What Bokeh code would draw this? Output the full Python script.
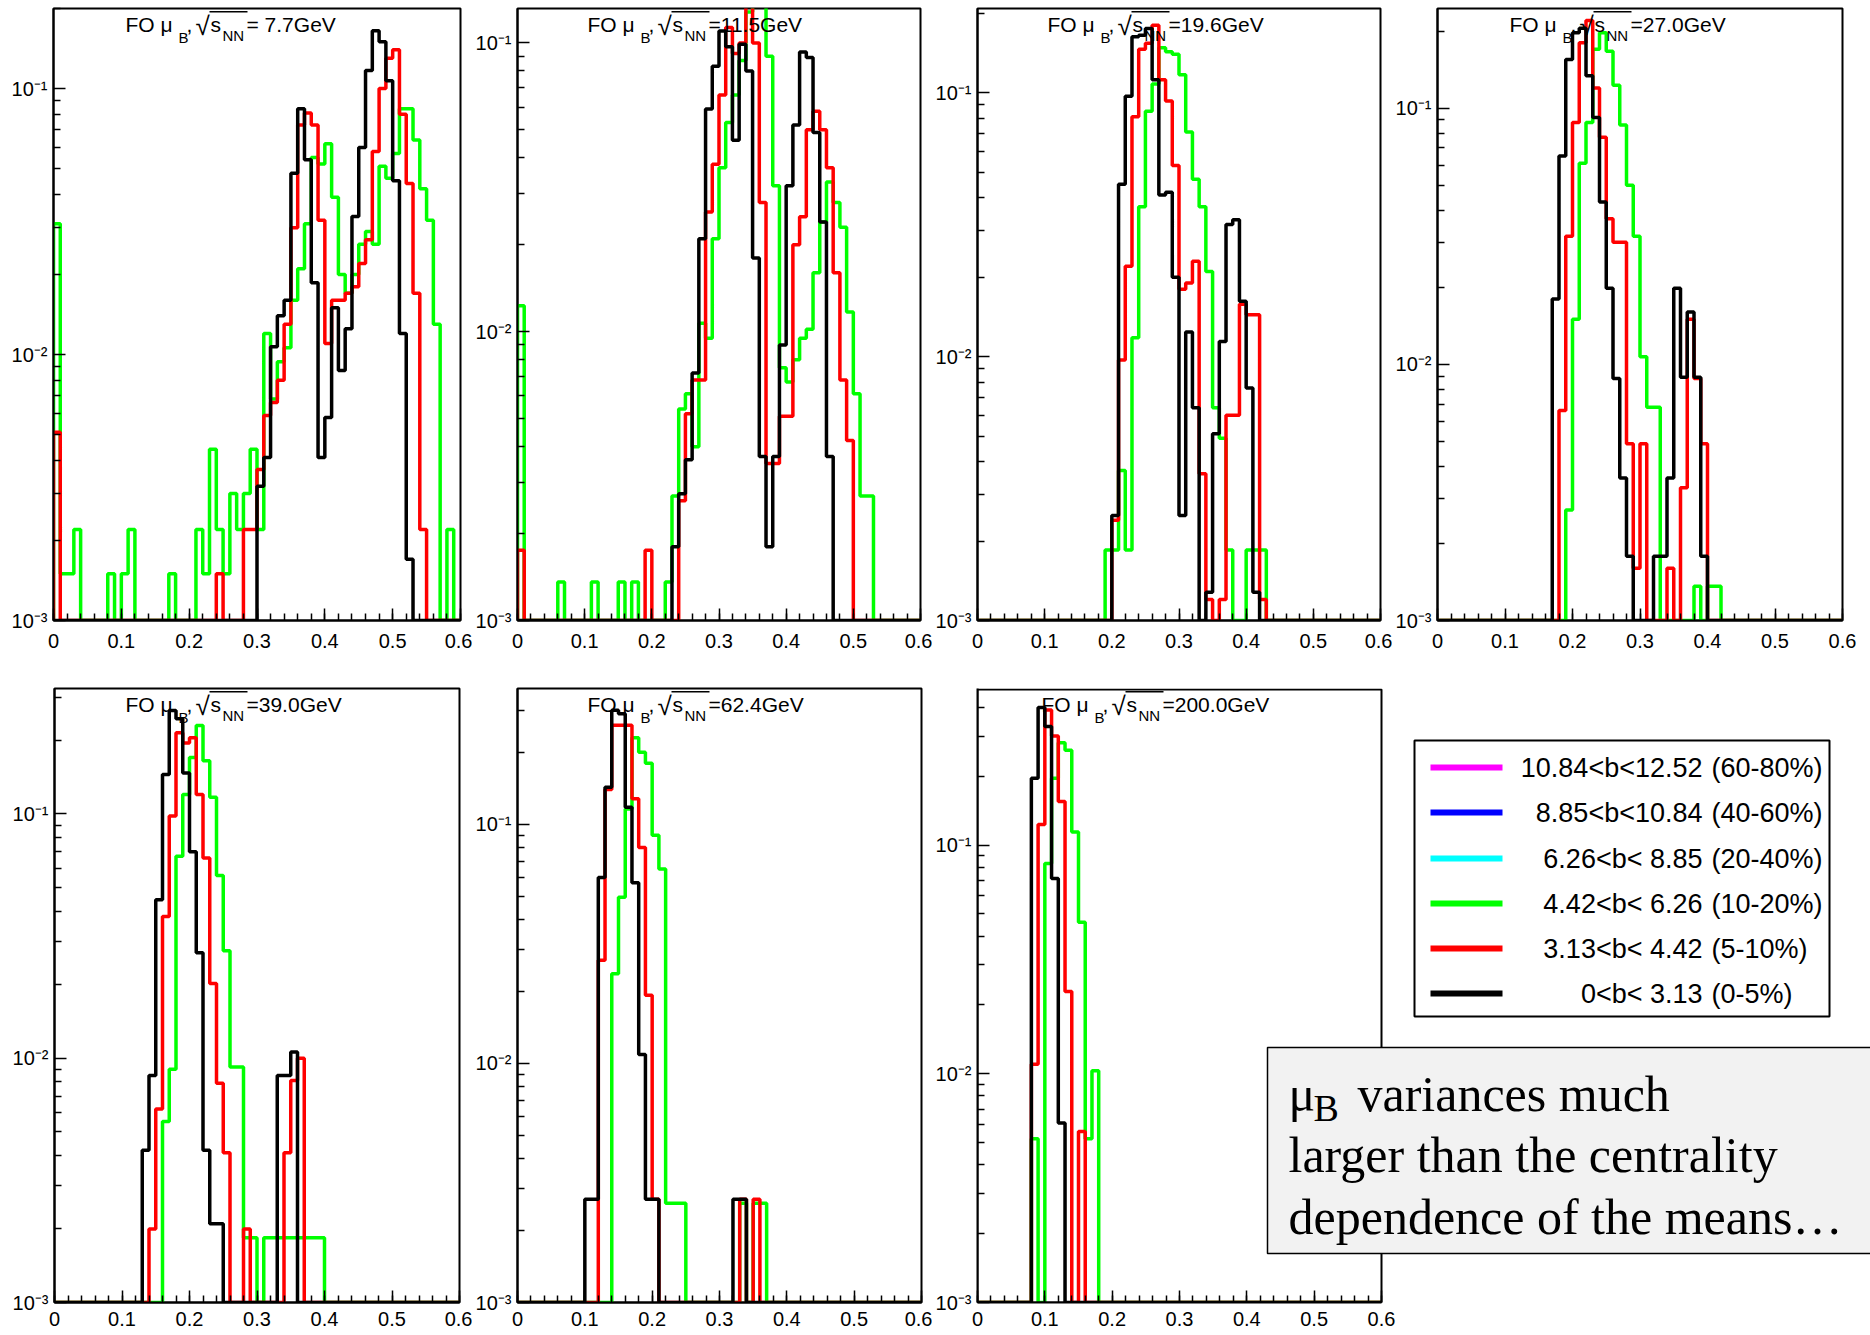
import numpy as np
from bokeh.plotting import figure
from bokeh.layouts import row, column
from bokeh.models import FixedTicker, CustomJSTickFormatter, Label, BoxAnnotation, Range1d
from bokeh.embed import file_html
from bokeh.resources import INLINE

# ---------------- data ----------------
N_BINS = 60
X_MIN, X_MAX = 0.0, 0.6
Y_MIN = 1e-3

energies = ["7.7", "11.5", "19.6", "27.0", "39.0", "62.4", "200.0"]
y_tops = [0.2, 0.1316, 0.2085, 0.245, 0.326, 0.37, 0.484]

# 7.7 GeV
green_7p7 = [0.031, 0.0015, 0.0015, 0.0022, 0, 0, 0, 0, 0.0015, 0,
             0.0015, 0.0022, 0, 0, 0, 0, 0, 0.0015, 0, 0,
             0, 0.0022, 0.0015, 0.0044, 0.0022, 0.0015, 0.003, 0.0022, 0.003, 0.0044,
             0.0022, 0.012, 0.0068, 0.0094, 0.0106, 0.016, 0.021, 0.031, 0.055, 0.052,
             0.062, 0.039, 0.020, 0.017, 0.020, 0.026, 0.029, 0.026, 0.051, 0.046,
             0.057, 0.084, 0.084, 0.064, 0.042, 0.032, 0.013, 0, 0.0022, 0]
red_7p7 = ([0.0051] + [0] * 23 + [0.0015, 0, 0, 0, 0.0022, 0.0022,
           0.0037, 0.0059, 0.0066, 0.008, 0.013, 0.03, 0.073, 0.081, 0.073, 0.032,
           0.011, 0.016, 0.016, 0.017, 0.018, 0.022, 0.027, 0.058, 0.10, 0.13,
           0.14, 0.08, 0.044, 0.017, 0.0022] + [0] * 5)
black_7p7 = ([0] * 30 + [0.0032, 0.0041, 0.0107, 0.014, 0.016, 0.048, 0.084, 0.054, 0.0186, 0.0041,
             0.0058, 0.015, 0.0087, 0.0125, 0.033, 0.06, 0.117, 0.165, 0.15, 0.107,
             0.045, 0.012, 0.0017] + [0] * 7)

# 11.5 GeV
green_11p5 = ([0.0123, 0, 0, 0, 0, 0, 0.00136, 0, 0, 0,
              0, 0.00136, 0, 0, 0, 0.00136, 0, 0.00136, 0, 0,
              0, 0, 0.00136, 0.0027, 0.0054, 0.0061, 0.004, 0.0107, 0.0095, 0.021,
              0.037, 0.053, 0.066, 0.087, 0.128, 0.15, 0.15, 0.09, 0.032, 0.0075,
              0.0067, 0.008, 0.0095, 0.0102, 0.016, 0.024, 0.033, 0.028, 0.023, 0.0117,
              0.0061, 0.0027, 0.0027] + [0] * 7)
red_11p5 = ([0.00175] + [0] * 18 + [0.00175, 0, 0, 0, 0, 0.0026, 0.0052, 0.0068, 0.0068, 0.026, 0.038,
            0.066, 0.113, 0.092, 0.10, 0.15, 0.10, 0.028, 0.0035, 0.0035, 0.0051,
            0.0051, 0.020, 0.025, 0.05, 0.058, 0.05, 0.037, 0.016, 0.0068, 0.0042] + [0] * 10)
black_11p5 = ([0] * 23 + [0.0018, 0.00275, 0.0036, 0.0072, 0.021, 0.059, 0.083,
              0.11, 0.097, 0.046, 0.099, 0.08, 0.018, 0.0037, 0.0018, 0.0037, 0.009,
              0.032, 0.052, 0.093, 0.089, 0.049, 0.024, 0.0037] + [0] * 13)

# 19.6 GeV
green_19p6 = ([0] * 19 + [0.00185,
              0.00185, 0.0037, 0.00185, 0.0118, 0.037, 0.085, 0.108, 0.148, 0.143, 0.14,
              0.117, 0.071, 0.047, 0.037, 0.021, 0.0064, 0.0049, 0.00185, 0, 0,
              0.00185, 0.00185, 0.00185] + [0] * 17)
red_19p6 = ([0] * 20 + [0.0024, 0.0097, 0.022, 0.081, 0.146, 0.154, 0.18, 0.112, 0.093, 0.053,
            0.018, 0.019, 0.023, 0.0036, 0.0012, 0, 0.0012, 0.006, 0.006, 0.0158,
            0.0144, 0.0144, 0.0012] + [0] * 17)
black_19p6 = ([0] * 20 + [0.0025, 0.045, 0.097, 0.163, 0.165, 0.175, 0.112, 0.041, 0.042, 0.020,
              0.0025, 0.0124, 0.0064, 0, 0.00128, 0.0051, 0.0114, 0.0317, 0.033, 0.0162,
              0.0076, 0.00128] + [0] * 18)

# 27.0 GeV
green_27 = ([0] * 19 + [0.0027,
            0.015, 0.061, 0.088, 0.17, 0.197, 0.167, 0.123, 0.086, 0.05, 0.0316,
            0.0107, 0.0068, 0.0068, 0, 0, 0, 0, 0, 0.00136, 0,
            0.00136, 0.00136] + [0] * 18)
red_27 = ([0] * 18 + [0.0066, 0.0316,
          0.088, 0.18, 0.22, 0.12, 0.077, 0.037, 0.03, 0.03, 0.0049, 0.0016,
          0.0049, 0, 0, 0, 0.0016, 0, 0.0033, 0.015, 0.0088, 0.0049] + [0] * 20)
black_27 = ([0] * 17 + [0.018, 0.065, 0.155,
            0.197, 0.205, 0.134, 0.092, 0.043, 0.0198, 0.0088, 0.0036, 0.00178, 0,
            0, 0, 0.00178, 0.00178, 0.0036, 0.0198, 0.0089, 0.016, 0.0089, 0.00178] + [0] * 20)

# 39.0 GeV
green_39 = ([0] * 16 + [0.0055, 0.009, 0.067, 0.12,
            0.17, 0.23, 0.165, 0.117, 0.056, 0.0275, 0.0092, 0.0092, 0.00184, 0.00184,
            0, 0.00184, 0.00184, 0.00184, 0.00184, 0.00184, 0.00184, 0.00184, 0.00184, 0.00184] + [0] * 20)
red_39 = ([0] * 14 + [0.002, 0.0062, 0.038, 0.098, 0.215, 0.195,
          0.205, 0.12, 0.066, 0.0202, 0.0079, 0.0041, 0, 0, 0.002, 0,
          0, 0, 0, 0, 0.0041, 0.0081, 0.010] + [0] * 23)
black_39 = ([0] * 13 + [0.0042, 0.0085, 0.0445, 0.145, 0.265, 0.245, 0.147,
            0.07, 0.027, 0.0042, 0.0021, 0.0021, 0, 0, 0, 0, 0,
            0, 0, 0, 0.0085, 0.0085, 0.0106] + [0] * 24)

# 62.4 GeV
green_62p4 = ([0] * 14 + [0.0237, 0.0495, 0.116, 0.23, 0.2, 0.18,
              0.09, 0.065, 0.0026, 0.0026, 0.0026, 0, 0, 0, 0, 0,
              0, 0, 0, 0.0026, 0, 0.0026, 0.0026] + [0] * 23)
red_62p4 = ([0] * 12 + [0.027, 0.14, 0.26, 0.26, 0.26, 0.128, 0.08, 0.0193,
            0.0027, 0, 0, 0, 0, 0, 0, 0, 0, 0,
            0, 0, 0, 0.0027, 0, 0.0027] + [0] * 24)
black_62p4 = ([0] * 10 + [0.0027, 0.0027, 0.06, 0.143, 0.3, 0.29, 0.118, 0.057, 0.0109, 0.0027,
              0.0027, 0, 0, 0, 0, 0, 0, 0, 0, 0,
              0, 0, 0.0027, 0.0027] + [0] * 26)

# 200.0 GeV
green_200 = ([0] * 8 + [0.0052, 0,
             0.083, 0.196, 0.28, 0.26, 0.114, 0.046, 0.0052, 0.0103] + [0] * 42)
red_200 = ([0] * 8 + [0.011, 0.123,
           0.39, 0.30, 0.155, 0.0229, 0, 0.0056] + [0] * 44)
black_200 = ([0] * 8 + [0.196, 0.40,
             0.33, 0.0715, 0.0061] + [0] * 47)

greens = [green_7p7, green_11p5, green_19p6, green_27, green_39, green_62p4, green_200]
reds = [red_7p7, red_11p5, red_19p6, red_27, red_39, red_62p4, red_200]
blacks = [black_7p7, black_11p5, black_19p6, black_27, black_39, black_62p4, black_200]
for s in greens + reds + blacks:
    assert len(s) == N_BINS, len(s)

x_ticks = [0, 0.1, 0.2, 0.3, 0.4, 0.5, 0.6]
y_ticks = [1e-3, 1e-2, 1e-1]

legend_ranges = ["10.84<b<12.52", "8.85<b<10.84", "6.26<b< 8.85", "4.42<b< 6.26", "3.13<b< 4.42", "0<b< 3.13"]
legend_pcts = ["(60-80%)", "(40-60%)", "(20-40%)", "(10-20%)", "(5-10%)", "(0-5%)"]
legend_colors = ["#ff00ff", "#0000ff", "#00ffff", "#00ff00", "#ff0000", "#000000"]

note_lines = ["variances much", "larger than the centrality", "dependence of the means\u2026"]

# ---------------- layout ----------------
# (top border, frame height, bottom border, x-label standoff)
ROWS = [(8, 612, 40, 13), (28, 614, 33, 9)]
# (left border, frame width, right border, data-area width)
COLS = [[(53, 407, 12, 407), (43, 403, 12, 403), (45, 403, 12, 403), (43, 405, 32, 405)],
        [(54, 405, 13, 405), (43, 404, 11, 404), (44, 895, 1, 404)]]
TITLE_OFF = [72, 70, 70, 72, 71, 70, 64]
SANS = "Liberation Sans"
SERIF = "Liberation Serif"
LW = 3.5
BASELINE_FIX = 0.28   # em shift so that the alphabetic baseline lands where intended

edges = np.linspace(X_MIN, X_MAX, N_BINS + 1)


def step_path(vals):
    xs, ys = [edges[0]], [Y_MIN]
    for k, v in enumerate(vals):
        y = max(v, Y_MIN)
        xs += [edges[k], edges[k + 1]]
        ys += [y, y]
    xs.append(edges[-1])
    ys.append(Y_MIN)
    return xs, ys


def lab(p, x, y, text, size, font=SANS, align="left", baseline="alphabetic"):
    if baseline == "alphabetic":
        y = y + BASELINE_FIX * size
    p.add_layout(Label(x=x, y=y, x_units="screen", y_units="screen", text=text,
                       text_font=font, text_font_size=f"{size}px", text_color="black",
                       text_align=align, text_baseline=baseline))


def box(p, l, r, t, b, fill, line=None, lw=1.0, fill_alpha=1.0):
    p.add_layout(BoxAnnotation(left=l, right=r, top=t, bottom=b,
                               left_units="screen", right_units="screen",
                               top_units="screen", bottom_units="screen",
                               fill_color=fill, fill_alpha=fill_alpha,
                               line_color=line if line else "black",
                               line_alpha=1.0 if line else 0.0, line_width=lw))


x_fmt = CustomJSTickFormatter(code="return (Math.abs(tick) < 1e-9) ? '0' : tick.toFixed(1);")
y_fmt = CustomJSTickFormatter(code="""
const e = Math.round(Math.log10(tick));
const m = {'-': '\u207b', '0': '\u2070', '1': '\u00b9', '2': '\u00b2', '3': '\u00b3'};
return '10' + String(e).split('').map(c => m[c]).join('');
""")
x_minor = [round(0.02 * i, 2) for i in range(31)]
y_minor = [m * 10.0 ** e for e in (-3, -2, -1) for m in range(2, 10)]


def make_panel(k, bl, fw, br, dw, bt, fh, bb, xstand):
    wide = fw != dw
    x_end = X_MAX * fw / dw
    p = figure(frame_width=fw, frame_height=fh,
               min_border_left=bl, min_border_right=br, min_border_top=bt, min_border_bottom=bb,
               x_range=Range1d(X_MIN, x_end), y_range=Range1d(Y_MIN, y_tops[k]),
               y_axis_type="log", output_backend="svg", toolbar_location=None,
               background_fill_color="white", border_fill_color="white")
    p.grid.visible = False
    if wide:
        p.outline_line_color = None
        p.xaxis.bounds = (X_MIN, X_MAX)
    else:
        p.outline_line_color = "black"
        p.outline_line_width = 2
    p.xaxis.ticker = FixedTicker(ticks=x_ticks, minor_ticks=x_minor)
    p.yaxis.ticker = FixedTicker(ticks=y_ticks, minor_ticks=y_minor)
    p.xaxis.formatter = x_fmt
    p.yaxis.formatter = y_fmt
    for ax in (p.xaxis[0], p.yaxis[0]):
        ax.axis_line_color = "black"
        ax.axis_line_width = 2
        ax.major_tick_in = 12
        ax.major_tick_out = 0
        ax.minor_tick_in = 7
        ax.minor_tick_out = 0
        ax.major_tick_line_width = 1.5
        ax.minor_tick_line_width = 1.5
        ax.major_tick_line_color = "black"
        ax.minor_tick_line_color = "black"
        ax.major_label_text_font = SANS
        ax.major_label_text_font_size = "20px"
        ax.major_label_text_color = "black"
    p.xaxis.major_label_standoff = xstand
    p.yaxis.major_label_standoff = 6

    for vals, col in ((greens[k], "#00ff00"), (reds[k], "#ff0000"), (blacks[k], "#000000")):
        xs, ys = step_path(vals)
        p.line(xs, ys, line_color=col, line_width=LW)

    if wide:
        # frame of the data area only
        box(p, 0, dw, fh - 1, 0, "white", "black", 2, fill_alpha=0.0)

    # title  FO mu_B, sqrt(s_NN)=...GeV
    s = TITLE_OFF[k]
    base = fh - 22
    lab(p, s, base, "FO \u03bc", 21)
    lab(p, s + 53, base - 11, "B", 15)
    lab(p, s + 61, base, ",", 21)
    lab(p, s + 70, fh - 25, "\u221a", 26)
    box(p, s + 84, s + 122, fh - 2.5, fh - 4, "black")
    lab(p, s + 85, base, "s", 21)
    lab(p, s + 97, base - 9, "NN", 15)
    lab(p, s + 121, base, "=" + energies[k].rjust(4) + "GeV", 21)
    return p


panels = []
k = 0
for r, (bt, fh, bb, xstand) in enumerate(ROWS):
    figs = []
    for (bl, fw, br, dw) in COLS[r]:
        figs.append(make_panel(k, bl, fw, br, dw, bt, fh, bb, xstand))
        k += 1
    panels.append(figs)

# legend + note on the last panel (frame origin: left 974, bottom 1302 on the page)
p7 = panels[1][2]
FX, FY = 974, 1302


def sx(X):
    return X - FX


def sy(Y):
    return FY - Y


box(p7, sx(1411), sx(1826), sy(740), sy(1016), "white", "black", 2)
row_y = [767, 812, 858, 903, 948, 993]
for i in range(len(legend_ranges)):
    yy = sy(row_y[i])
    box(p7, sx(1427), sx(1499), yy + 3, yy - 3, legend_colors[i])
    lab(p7, sx(1699), yy, legend_ranges[i], 27, align="right", baseline="middle")
    lab(p7, sx(1708), yy, legend_pcts[i], 27, align="left", baseline="middle")

box(p7, sx(1264), sx(1869), sy(1047), sy(1253), "#f2f2f2", "black", 1.5)
lab(p7, sx(1285), sy(1107), "\u03bc", 50, font=SERIF)
lab(p7, sx(1310), sy(1118), "B", 38, font=SERIF)
lab(p7, sx(1354), sy(1107), note_lines[0], 50, font=SERIF)
lab(p7, sx(1285), sy(1168), note_lines[1], 50, font=SERIF)
lab(p7, sx(1285), sy(1230), note_lines[2], 50, font=SERIF)

layout = column(row(*panels[0]), row(*panels[1]))
open("out.html", "w").write(file_html(layout, INLINE, title="FO muB distributions"))
